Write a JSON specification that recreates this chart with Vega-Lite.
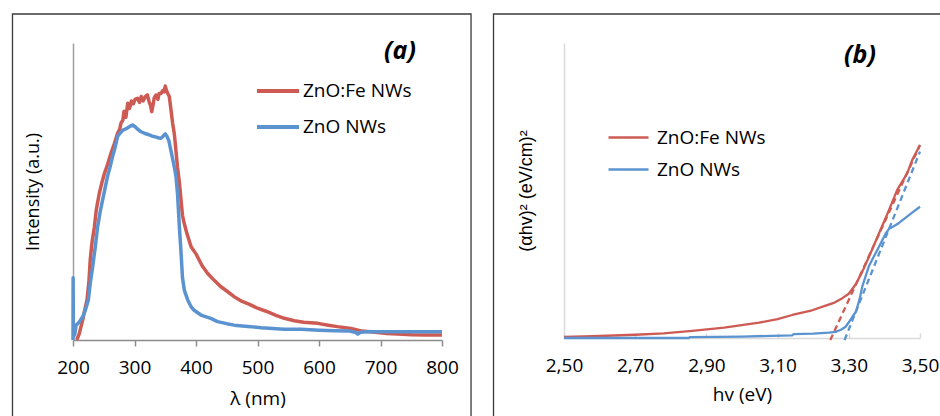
{
 "$schema": "https://vega.github.io/schema/vega-lite/v6.json",
 "padding": {"left": 11, "top": 13, "right": 0, "bottom": 0},
 "background": "white",
 "spacing": 20,
 "config": {
  "view": {"stroke": null},
  "font": "Open Sans",
  "axis": {"grid": false, "labelFont": "Open Sans", "titleFont": "Open Sans", "labelFontSize": 19, "titleFontSize": 19, "labelColor": "#000", "titleColor": "#000", "titleFontWeight": "normal"},
  "legend": {"labelFont": "Open Sans", "labelFontSize": 19, "labelColor": "#000", "symbolType": "stroke", "rowPadding": 0}
 },
 "resolve": {"scale": {"color": "independent", "x": "independent", "y": "independent"}, "legend": {"color": "independent"}},
 "datasets": {
  "spec": [
   {"nm": 206, "I": 0, "s": "ZnO:Fe NWs"}, {"nm": 210, "I": 2, "s": "ZnO:Fe NWs"}, {"nm": 215.7, "I": 6.7, "s": "ZnO:Fe NWs"}, {"nm": 219, "I": 10, "s": "ZnO:Fe NWs"}, {"nm": 222.8, "I": 13.5, "s": "ZnO:Fe NWs"}, {"nm": 226, "I": 20, "s": "ZnO:Fe NWs"}, {"nm": 228, "I": 27, "s": "ZnO:Fe NWs"}, {"nm": 231, "I": 33, "s": "ZnO:Fe NWs"}, {"nm": 234.7, "I": 38, "s": "ZnO:Fe NWs"}, {"nm": 238, "I": 44, "s": "ZnO:Fe NWs"}, {"nm": 242.8, "I": 49.4, "s": "ZnO:Fe NWs"}, {"nm": 247, "I": 53, "s": "ZnO:Fe NWs"}, {"nm": 251, "I": 56, "s": "ZnO:Fe NWs"}, {"nm": 256, "I": 59, "s": "ZnO:Fe NWs"}, {"nm": 262, "I": 63, "s": "ZnO:Fe NWs"}, {"nm": 267, "I": 66, "s": "ZnO:Fe NWs"}, {"nm": 272.5, "I": 69.6, "s": "ZnO:Fe NWs"}, {"nm": 276, "I": 71, "s": "ZnO:Fe NWs"}, {"nm": 278, "I": 73, "s": "ZnO:Fe NWs"}, {"nm": 281, "I": 74, "s": "ZnO:Fe NWs"}, {"nm": 283, "I": 77, "s": "ZnO:Fe NWs"}, {"nm": 286, "I": 75, "s": "ZnO:Fe NWs"}, {"nm": 289, "I": 79.7, "s": "ZnO:Fe NWs"}, {"nm": 292, "I": 78, "s": "ZnO:Fe NWs"}, {"nm": 295, "I": 80.5, "s": "ZnO:Fe NWs"}, {"nm": 298, "I": 79.5, "s": "ZnO:Fe NWs"}, {"nm": 301, "I": 81, "s": "ZnO:Fe NWs"}, {"nm": 305, "I": 81.4, "s": "ZnO:Fe NWs"}, {"nm": 308, "I": 80, "s": "ZnO:Fe NWs"}, {"nm": 311, "I": 82, "s": "ZnO:Fe NWs"}, {"nm": 314, "I": 80.5, "s": "ZnO:Fe NWs"}, {"nm": 318, "I": 82, "s": "ZnO:Fe NWs"}, {"nm": 321, "I": 82.5, "s": "ZnO:Fe NWs"}, {"nm": 324, "I": 80, "s": "ZnO:Fe NWs"}, {"nm": 326, "I": 79, "s": "ZnO:Fe NWs"}, {"nm": 328, "I": 76.9, "s": "ZnO:Fe NWs"}, {"nm": 330, "I": 79, "s": "ZnO:Fe NWs"}, {"nm": 332, "I": 81.5, "s": "ZnO:Fe NWs"}, {"nm": 335, "I": 82.5, "s": "ZnO:Fe NWs"}, {"nm": 338, "I": 81, "s": "ZnO:Fe NWs"}, {"nm": 340, "I": 83, "s": "ZnO:Fe NWs"}, {"nm": 343, "I": 83, "s": "ZnO:Fe NWs"}, {"nm": 346, "I": 84, "s": "ZnO:Fe NWs"}, {"nm": 348, "I": 83.5, "s": "ZnO:Fe NWs"}, {"nm": 350, "I": 85.5, "s": "ZnO:Fe NWs"}, {"nm": 352, "I": 84, "s": "ZnO:Fe NWs"}, {"nm": 354, "I": 83, "s": "ZnO:Fe NWs"}, {"nm": 356.6, "I": 82, "s": "ZnO:Fe NWs"}, {"nm": 359, "I": 78, "s": "ZnO:Fe NWs"}, {"nm": 362, "I": 73, "s": "ZnO:Fe NWs"}, {"nm": 365, "I": 69, "s": "ZnO:Fe NWs"}, {"nm": 370, "I": 58, "s": "ZnO:Fe NWs"}, {"nm": 373, "I": 53, "s": "ZnO:Fe NWs"}, {"nm": 378, "I": 42, "s": "ZnO:Fe NWs"}, {"nm": 380, "I": 40, "s": "ZnO:Fe NWs"}, {"nm": 385, "I": 36, "s": "ZnO:Fe NWs"}, {"nm": 392, "I": 31.4, "s": "ZnO:Fe NWs"}, {"nm": 400, "I": 29, "s": "ZnO:Fe NWs"}, {"nm": 410, "I": 25, "s": "ZnO:Fe NWs"}, {"nm": 419, "I": 22.4, "s": "ZnO:Fe NWs"}, {"nm": 430, "I": 20, "s": "ZnO:Fe NWs"}, {"nm": 440, "I": 18, "s": "ZnO:Fe NWs"}, {"nm": 450, "I": 16.5, "s": "ZnO:Fe NWs"}, {"nm": 462, "I": 14.6, "s": "ZnO:Fe NWs"}, {"nm": 475, "I": 13, "s": "ZnO:Fe NWs"}, {"nm": 487, "I": 12, "s": "ZnO:Fe NWs"}, {"nm": 500, "I": 10.7, "s": "ZnO:Fe NWs"}, {"nm": 515, "I": 9.6, "s": "ZnO:Fe NWs"}, {"nm": 530, "I": 8.3, "s": "ZnO:Fe NWs"}, {"nm": 543.5, "I": 7.3, "s": "ZnO:Fe NWs"}, {"nm": 560, "I": 6.5, "s": "ZnO:Fe NWs"}, {"nm": 575, "I": 6, "s": "ZnO:Fe NWs"}, {"nm": 598, "I": 5.6, "s": "ZnO:Fe NWs"}, {"nm": 615, "I": 5, "s": "ZnO:Fe NWs"}, {"nm": 630, "I": 4.5, "s": "ZnO:Fe NWs"}, {"nm": 652, "I": 3.9, "s": "ZnO:Fe NWs"}, {"nm": 670, "I": 3, "s": "ZnO:Fe NWs"}, {"nm": 695, "I": 2.5, "s": "ZnO:Fe NWs"}, {"nm": 710, "I": 2.2, "s": "ZnO:Fe NWs"}, {"nm": 728, "I": 2, "s": "ZnO:Fe NWs"}, {"nm": 750, "I": 1.8, "s": "ZnO:Fe NWs"}, {"nm": 775, "I": 1.7, "s": "ZnO:Fe NWs"}, {"nm": 800, "I": 1.7, "s": "ZnO:Fe NWs"},
   {"nm": 200, "I": 0, "s": "ZnO NWs"}, {"nm": 200.2, "I": 21, "s": "ZnO NWs"}, {"nm": 200.7, "I": 1, "s": "ZnO NWs"}, {"nm": 203, "I": 2, "s": "ZnO NWs"}, {"nm": 205, "I": 5, "s": "ZnO NWs"}, {"nm": 210, "I": 6, "s": "ZnO NWs"}, {"nm": 215.7, "I": 7.8, "s": "ZnO NWs"}, {"nm": 220, "I": 10, "s": "ZnO NWs"}, {"nm": 225, "I": 13.5, "s": "ZnO NWs"}, {"nm": 228, "I": 19, "s": "ZnO NWs"}, {"nm": 232, "I": 24.7, "s": "ZnO NWs"}, {"nm": 236, "I": 31, "s": "ZnO NWs"}, {"nm": 240, "I": 38, "s": "ZnO NWs"}, {"nm": 244, "I": 43, "s": "ZnO NWs"}, {"nm": 248, "I": 47, "s": "ZnO NWs"}, {"nm": 252, "I": 51, "s": "ZnO NWs"}, {"nm": 256, "I": 55, "s": "ZnO NWs"}, {"nm": 260, "I": 58, "s": "ZnO NWs"}, {"nm": 264, "I": 61.5, "s": "ZnO NWs"}, {"nm": 268, "I": 64.5, "s": "ZnO NWs"}, {"nm": 272.5, "I": 68.5, "s": "ZnO NWs"}, {"nm": 276, "I": 69.5, "s": "ZnO NWs"}, {"nm": 281, "I": 70.7, "s": "ZnO NWs"}, {"nm": 285, "I": 71, "s": "ZnO NWs"}, {"nm": 289, "I": 71.5, "s": "ZnO NWs"}, {"nm": 293, "I": 72, "s": "ZnO NWs"}, {"nm": 297, "I": 72.4, "s": "ZnO NWs"}, {"nm": 301, "I": 71.8, "s": "ZnO NWs"}, {"nm": 305, "I": 71, "s": "ZnO NWs"}, {"nm": 310, "I": 70.2, "s": "ZnO NWs"}, {"nm": 316, "I": 69.6, "s": "ZnO NWs"}, {"nm": 322, "I": 69.2, "s": "ZnO NWs"}, {"nm": 328, "I": 68.7, "s": "ZnO NWs"}, {"nm": 334, "I": 68.4, "s": "ZnO NWs"}, {"nm": 340, "I": 68, "s": "ZnO NWs"}, {"nm": 343, "I": 67.9, "s": "ZnO NWs"}, {"nm": 347, "I": 68.7, "s": "ZnO NWs"}, {"nm": 350, "I": 69.4, "s": "ZnO NWs"}, {"nm": 353, "I": 68.5, "s": "ZnO NWs"}, {"nm": 356, "I": 67, "s": "ZnO NWs"}, {"nm": 359, "I": 64, "s": "ZnO NWs"}, {"nm": 362, "I": 61, "s": "ZnO NWs"}, {"nm": 365, "I": 58, "s": "ZnO NWs"}, {"nm": 367.5, "I": 55, "s": "ZnO NWs"}, {"nm": 370, "I": 49, "s": "ZnO NWs"}, {"nm": 373, "I": 38, "s": "ZnO NWs"}, {"nm": 375.5, "I": 30, "s": "ZnO NWs"}, {"nm": 378, "I": 21, "s": "ZnO NWs"}, {"nm": 381, "I": 16.8, "s": "ZnO NWs"}, {"nm": 386.5, "I": 13.5, "s": "ZnO NWs"}, {"nm": 392, "I": 11.2, "s": "ZnO NWs"}, {"nm": 397, "I": 10, "s": "ZnO NWs"}, {"nm": 408, "I": 8.4, "s": "ZnO NWs"}, {"nm": 424, "I": 7.3, "s": "ZnO NWs"}, {"nm": 435, "I": 6.2, "s": "ZnO NWs"}, {"nm": 450, "I": 5.5, "s": "ZnO NWs"}, {"nm": 462, "I": 5, "s": "ZnO NWs"}, {"nm": 489, "I": 4.5, "s": "ZnO NWs"}, {"nm": 505.7, "I": 4.1, "s": "ZnO NWs"}, {"nm": 543.5, "I": 3.6, "s": "ZnO NWs"}, {"nm": 571, "I": 3.6, "s": "ZnO NWs"}, {"nm": 600, "I": 3.3, "s": "ZnO NWs"}, {"nm": 625, "I": 3.1, "s": "ZnO NWs"}, {"nm": 650, "I": 3, "s": "ZnO NWs"}, {"nm": 660, "I": 2.5, "s": "ZnO NWs"}, {"nm": 663, "I": 2, "s": "ZnO NWs"}, {"nm": 667, "I": 2.6, "s": "ZnO NWs"}, {"nm": 679, "I": 2.8, "s": "ZnO NWs"}, {"nm": 720, "I": 2.8, "s": "ZnO NWs"}, {"nm": 760, "I": 2.8, "s": "ZnO NWs"}, {"nm": 800, "I": 2.8, "s": "ZnO NWs"}
  ],
  "tauc": [
   {"E": 2.5, "A": 0.4, "s": "ZnO:Fe NWs"}, {"E": 2.58, "A": 0.6, "s": "ZnO:Fe NWs"}, {"E": 2.7, "A": 1.1, "s": "ZnO:Fe NWs"}, {"E": 2.78, "A": 1.6, "s": "ZnO:Fe NWs"}, {"E": 2.86, "A": 2.4, "s": "ZnO:Fe NWs"}, {"E": 2.95, "A": 3.5, "s": "ZnO:Fe NWs"}, {"E": 3.048, "A": 5.2, "s": "ZnO:Fe NWs"}, {"E": 3.1, "A": 6.4, "s": "ZnO:Fe NWs"}, {"E": 3.141, "A": 7.8, "s": "ZnO:Fe NWs"}, {"E": 3.197, "A": 9.4, "s": "ZnO:Fe NWs"}, {"E": 3.235, "A": 11, "s": "ZnO:Fe NWs"}, {"E": 3.26, "A": 12, "s": "ZnO:Fe NWs"}, {"E": 3.282, "A": 13.5, "s": "ZnO:Fe NWs"}, {"E": 3.3, "A": 15, "s": "ZnO:Fe NWs"}, {"E": 3.32, "A": 18.3, "s": "ZnO:Fe NWs"}, {"E": 3.338, "A": 22.5, "s": "ZnO:Fe NWs"}, {"E": 3.357, "A": 27.6, "s": "ZnO:Fe NWs"}, {"E": 3.385, "A": 35.5, "s": "ZnO:Fe NWs"}, {"E": 3.413, "A": 43.4, "s": "ZnO:Fe NWs"}, {"E": 3.436, "A": 50.2, "s": "ZnO:Fe NWs"}, {"E": 3.464, "A": 55.8, "s": "ZnO:Fe NWs"}, {"E": 3.478, "A": 60.3, "s": "ZnO:Fe NWs"}, {"E": 3.5, "A": 65.4, "s": "ZnO:Fe NWs"},
   {"E": 2.5, "A": 0, "s": "ZnO NWs"}, {"E": 2.851, "A": 0, "s": "ZnO NWs"}, {"E": 2.853, "A": 0.3, "s": "ZnO NWs"}, {"E": 3.0, "A": 0.5, "s": "ZnO NWs"}, {"E": 3.141, "A": 0.9, "s": "ZnO NWs"}, {"E": 3.145, "A": 1.3, "s": "ZnO NWs"}, {"E": 3.2, "A": 1.5, "s": "ZnO NWs"}, {"E": 3.244, "A": 1.8, "s": "ZnO NWs"}, {"E": 3.263, "A": 2.1, "s": "ZnO NWs"}, {"E": 3.278, "A": 2.8, "s": "ZnO NWs"}, {"E": 3.291, "A": 3.8, "s": "ZnO NWs"}, {"E": 3.301, "A": 5.5, "s": "ZnO NWs"}, {"E": 3.31, "A": 7.2, "s": "ZnO NWs"}, {"E": 3.32, "A": 8.9, "s": "ZnO NWs"}, {"E": 3.33, "A": 13, "s": "ZnO NWs"}, {"E": 3.338, "A": 17.5, "s": "ZnO NWs"}, {"E": 3.357, "A": 24.5, "s": "ZnO NWs"}, {"E": 3.385, "A": 31, "s": "ZnO NWs"}, {"E": 3.404, "A": 35.5, "s": "ZnO NWs"}, {"E": 3.413, "A": 37, "s": "ZnO NWs"}, {"E": 3.425, "A": 37.8, "s": "ZnO NWs"}, {"E": 3.441, "A": 39, "s": "ZnO NWs"}, {"E": 3.46, "A": 40.8, "s": "ZnO NWs"}, {"E": 3.478, "A": 42.5, "s": "ZnO NWs"}, {"E": 3.5, "A": 44.5, "s": "ZnO NWs"}
  ],
  "fit": [
   {"E": 3.248, "A": -0.7, "s": "ZnO:Fe NWs"}, {"E": 3.5, "A": 65.4, "s": "ZnO:Fe NWs"},
   {"E": 3.288, "A": -0.7, "s": "ZnO NWs"}, {"E": 3.5, "A": 63.2, "s": "ZnO NWs"}
  ]
 },
 "hconcat": [
  {
   "width": 369, "height": 297,
   "layer": [
    {
     "data": {"values": [{}]},
     "mark": {"type": "rect", "fill": "transparent", "stroke": "#3a3a3a", "strokeWidth": 1.3},
     "encoding": {
      "x": {"datum": 101.6, "type": "quantitative", "scale": {"domain": [200, 800], "nice": false, "zero": false}},
      "x2": {"datum": 847.2},
      "y": {"datum": 109.76, "type": "quantitative", "scale": {"domain": [0, 100], "nice": false}},
      "y2": {"datum": -35}
     }
    },
    {
     "data": {"name": "spec"},
     "mark": {"type": "line", "strokeWidth": 3.5, "strokeJoin": "round"},
     "encoding": {
      "x": {"field": "nm", "type": "quantitative", "scale": {"domain": [200, 800], "nice": false, "zero": false},
       "axis": {"title": "λ (nm)", "values": [200, 250, 300, 350, 400, 450, 500, 550, 600, 650, 700, 750, 800], "labelExpr": "datum.value % 100 == 0 ? datum.label : ''", "domainColor": "#8c8c8c", "domainWidth": 1.5, "tickColor": "#8c8c8c", "tickWidth": 1.5, "tickSize": 6, "labelPadding": 12, "titlePadding": 12, "labelFlush": false}},
      "y": {"field": "I", "type": "quantitative", "scale": {"domain": [0, 100], "nice": false},
       "axis": {"title": "Intensity (a.u.)", "titleFontSize": 18, "labels": false, "ticks": false, "domainColor": "#a0a0a0", "domainWidth": 1.5, "titlePadding": 31}},
      "color": {"field": "s", "type": "nominal", "sort": null,
       "scale": {"domain": ["ZnO:Fe NWs", "ZnO NWs"], "range": ["#CD5B53", "#5B93D0"]},
       "legend": {"title": null, "orient": "none", "legendX": 182, "legendY": 25, "symbolSize": 1764, "symbolStrokeWidth": 4, "labelOffset": 2, "rowPadding": 3}}
     }
    },
    {
     "data": {"values": [{"t": "(a)"}]},
     "mark": {"type": "text", "font": "Open Sans", "fontSize": 25, "fontWeight": "bold", "fontStyle": "italic", "align": "center", "baseline": "middle", "color": "#000"},
     "encoding": {"x": {"datum": 731.7, "type": "quantitative"}, "y": {"datum": 97.3, "type": "quantitative"}, "text": {"field": "t"}}
    }
   ]
  },
  {
   "width": 356, "height": 295,
   "layer": [
    {
     "data": {"values": [{}]},
     "mark": {"type": "rect", "fill": "transparent", "stroke": "#3a3a3a", "strokeWidth": 1.3},
     "encoding": {
      "x": {"datum": 2.302, "type": "quantitative", "scale": {"domain": [2.5, 3.5], "nice": false, "zero": false}},
      "x2": {"datum": 3.6},
      "y": {"datum": 109.83, "type": "quantitative", "scale": {"domain": [0, 100], "nice": false}},
      "y2": {"datum": -35}
     }
    },
    {
     "data": {"name": "tauc"},
     "mark": {"type": "line", "strokeWidth": 2.3, "strokeJoin": "round"},
     "encoding": {
      "x": {"field": "E", "type": "quantitative", "scale": {"domain": [2.5, 3.5], "nice": false, "zero": false},
       "axis": {"title": "hv (eV)", "values": [2.5, 2.55, 2.6, 2.65, 2.7, 2.75, 2.8, 2.85, 2.9, 2.95, 3.0, 3.05, 3.1, 3.15, 3.2, 3.25, 3.3, 3.35, 3.4, 3.45, 3.5], "labelExpr": "round(datum.value * 100) % 20 == 10 ? replace(format(datum.value, '.2f'), '.', ',') : ''", "domainColor": "#d9d9d9", "domainWidth": 1.5, "tickColor": "#d9d9d9", "tickWidth": 1.5, "tickSize": -5, "labelPadding": 23, "titlePadding": 10, "labelFlush": false}},
      "y": {"field": "A", "type": "quantitative", "scale": {"domain": [0, 100], "nice": false},
       "axis": {"title": "(αhv)² (eV/cm)²", "titleFont": "Liberation Sans", "titleFontSize": 18, "labels": false, "ticks": false, "domainColor": "#d9d9d9", "domainWidth": 1.5, "titlePadding": 29}},
      "color": {"field": "s", "type": "nominal", "sort": null,
       "scale": {"domain": ["ZnO:Fe NWs", "ZnO NWs"], "range": ["#CD5B53", "#5B93D0"]},
       "legend": {"title": null, "orient": "none", "legendX": 43, "legendY": 73, "symbolSize": 1600, "symbolStrokeWidth": 2.5, "labelOffset": 7}}
     }
    },
    {
     "data": {"name": "fit"},
     "mark": {"type": "line", "strokeWidth": 2.3, "strokeDash": [6, 4]},
     "encoding": {
      "x": {"field": "E", "type": "quantitative"},
      "y": {"field": "A", "type": "quantitative"},
      "color": {"field": "s", "type": "nominal", "sort": null, "legend": null}
     }
    },
    {
     "data": {"values": [{"t": "(b)"}]},
     "mark": {"type": "text", "font": "Open Sans", "fontSize": 25, "fontWeight": "bold", "fontStyle": "italic", "align": "center", "baseline": "middle", "color": "#000"},
     "encoding": {"x": {"datum": 3.3315, "type": "quantitative"}, "y": {"datum": 95.9, "type": "quantitative"}, "text": {"field": "t"}}
    }
   ]
  }
 ]
}
